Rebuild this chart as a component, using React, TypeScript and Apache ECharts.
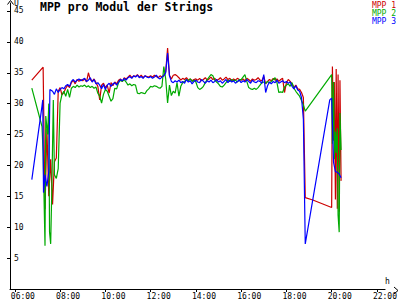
import React, { useEffect, useRef } from "react";
import * as echarts from "echarts";

const TITLE = "MPP pro Modul der Strings";
const SERIES_NAMES = ["MPP 1", "MPP 2", "MPP 3"];
const COLORS = ["#cc0000", "#00aa00", "#0000ff"];
const X_TICKS = [6, 8, 10, 12, 14, 16, 18, 20, 22];
const Y_TICKS = [5, 10, 15, 20, 25, 30, 35, 40, 45];
const Y_UNIT = "U";
const X_UNIT = "h";

// morning (irregular samples)
const RED_EARLY: [string, number][] = [
  ["06:45", 33.8], ["07:15", 35.9], ["07:20", 12.9], ["07:25", 26.0], ["07:30", 15.0],
  ["07:35", 21.0], ["07:40", 13.7], ["07:45", 20.6], ["07:50", 21.2], ["07:55", 32.0],
];
const GREEN_EARLY: [string, number][] = [
  ["06:45", 32.5], ["07:12", 26.3], ["07:15", 22.0], ["07:20", 7.0], ["07:22", 28.0],
  ["07:27", 25.0], ["07:30", 30.0], ["07:32", 9.2], ["07:35", 7.3], ["07:38", 16.0],
  ["07:42", 30.6], ["07:45", 18.5], ["07:50", 17.9], ["07:55", 19.5],
];
const BLUE_EARLY: [string, number][] = [
  ["06:45", 17.7], ["07:12", 29.6], ["07:14", 30.6], ["07:16", 15.6], ["07:20", 18.5],
  ["07:25", 16.6], ["07:30", 19.0], ["07:33", 32.3], ["07:40", 32.0], ["07:45", 31.5],
  ["07:50", 32.4], ["07:55", 31.8],
];

// day (5-minute samples from 08:00 to 18:30)
const MID_START = "08:00";
const MID_STEP_MIN = 5;
const RED_MID = [
  32.6, 31.4, 31.8, 32.5, 33.0, 32.6, 33.4, 33.8, 33.2, 33.9, 33.6, 33.9,
  33.7, 34.0, 33.5, 35.0, 33.9, 33.6, 34.0, 33.4, 32.8, 30.6, 33.0, 33.3,
  32.6, 33.0, 31.7, 33.4, 32.9, 33.5, 33.2, 33.8, 34.0, 33.6, 34.2, 34.0,
  34.3, 34.6, 34.2, 34.5, 34.4, 34.7, 34.3, 34.6, 34.2, 34.5, 34.4, 34.3,
  34.5, 34.3, 34.6, 34.4, 34.2, 34.5, 34.3, 34.6, 35.2, 39.0, 34.6, 34.0,
  34.6, 34.7, 34.5, 34.2, 33.8, 34.1, 33.9, 34.2, 33.8, 34.0, 33.7, 33.9,
  34.0, 33.8, 34.1, 33.7, 33.9, 34.2, 33.8, 34.0, 34.3, 33.9, 34.1, 33.8,
  33.9, 34.2, 33.8, 34.0, 34.3, 33.9, 34.1, 33.7, 34.0, 33.8, 34.1, 33.9,
  33.8, 34.0, 33.7, 34.1, 33.9, 33.6, 34.0, 33.8, 33.9, 34.2, 33.8, 33.7,
  34.4, 33.2, 33.6, 33.9, 33.7, 34.1, 33.8, 34.0, 33.6, 33.9, 34.1, 31.8,
  33.4, 33.9, 33.6, 33.2, 32.6, 33.0, 32.4,
];
const GREEN_MID = [
  30.1, 31.5, 32.0, 31.2, 32.3, 31.0, 32.5, 32.8, 32.6, 33.0, 32.7, 32.9,
  32.8, 33.0, 32.7, 32.9, 32.6, 32.8, 32.5, 32.7, 31.7, 31.2, 30.1, 31.5,
  32.3, 32.0, 31.2, 30.4, 30.8, 32.5, 32.4, 33.4, 33.8, 33.6, 33.9, 33.5,
  33.0, 33.2, 32.9, 33.1, 33.0, 31.7, 31.6, 31.8, 31.7, 31.6, 32.1, 32.4,
  32.8, 32.7, 32.9, 32.8, 32.6, 32.5, 32.8, 36.0, 34.0, 30.1, 33.0, 31.3,
  32.0, 31.7, 33.4, 31.2, 32.8, 33.4, 33.6, 33.9, 33.7, 34.0, 33.6, 33.8,
  33.5, 32.6, 32.3, 32.5, 32.8, 33.4, 33.9, 34.3, 34.7, 34.5, 33.8, 33.5,
  33.2, 32.8, 32.7, 33.0, 33.4, 33.8, 33.6, 33.9, 33.7, 33.8, 33.5, 33.9,
  33.9, 34.3, 34.7, 33.6, 32.6, 32.4, 32.3, 32.5, 32.3, 32.6, 33.0, 33.4,
  33.5, 33.3, 33.6, 33.4, 33.6, 33.9, 34.2, 33.4, 31.8, 31.9, 31.8, 32.7,
  33.0, 33.2, 32.8, 33.4, 32.5, 32.0, 31.6,
];
const BLUE_MID = [
  32.3, 32.6, 32.4, 32.9, 33.1, 32.8, 33.6, 33.9, 33.5, 33.8, 34.0, 33.7,
  33.9, 34.1, 33.6, 33.8, 34.2, 33.5, 33.9, 33.2, 33.4, 33.0, 32.4, 33.1,
  32.3, 33.0, 33.3, 32.8, 33.2, 33.4, 33.0, 33.5, 33.9, 33.7, 34.1, 33.8,
  34.2, 34.4, 34.1, 34.5, 34.3, 34.6, 34.2, 34.4, 34.1, 34.5, 34.3, 34.2,
  34.4, 34.1, 34.3, 34.6, 34.2, 34.0, 34.3, 34.5, 35.0, 38.2, 34.5, 33.6,
  33.4, 33.7, 33.5, 33.8, 33.4, 33.6, 33.3, 33.9, 33.5, 33.7, 33.2, 33.6,
  33.8, 33.5, 33.4, 33.9, 33.6, 33.3, 33.7, 33.5, 33.8, 33.4, 33.6, 33.9,
  33.5, 33.7, 33.3, 33.6, 33.9, 33.4, 33.8, 33.5, 33.7, 33.3, 33.6, 33.8,
  33.4, 33.7, 33.5, 33.9, 33.6, 33.3, 33.8, 33.5, 33.4, 33.7, 33.6, 33.3,
  34.7, 31.8, 32.9, 33.5, 33.2, 33.6, 33.4, 33.8, 33.3, 33.5, 33.7, 33.4,
  33.6, 33.3, 33.5, 32.8, 32.4, 32.9, 32.2,
];

// evening (irregular samples)
const RED_LATE: [string, number][] = [
  ["18:35", 32.3], ["18:40", 31.8], ["18:45", 31.0], ["18:50", 14.8], ["19:10", 14.4],
  ["20:00", 13.2], ["20:02", 36.0], ["20:05", 24.0], ["20:07", 33.5], ["20:10", 14.5],
  ["20:12", 35.6], ["20:15", 13.0], ["20:17", 34.7], ["20:20", 12.5], ["20:22", 33.8],
  ["20:25", 17.5],
];
const GREEN_LATE: [string, number][] = [
  ["18:35", 31.2], ["18:40", 30.5], ["18:45", 29.8], ["18:50", 28.8], ["20:00", 34.7],
  ["20:02", 23.5], ["20:05", 33.5], ["20:07", 21.0], ["20:10", 25.5], ["20:12", 22.0],
  ["20:15", 26.0], ["20:17", 12.0], ["20:20", 9.2], ["20:22", 28.5], ["20:25", 22.5],
];
const BLUE_LATE: [string, number][] = [
  ["18:35", 32.0], ["18:40", 31.0], ["18:45", 27.5], ["18:50", 7.3], ["19:55", 30.6],
  ["20:00", 30.9], ["20:05", 20.5], ["20:10", 19.0], ["20:15", 18.9], ["20:20", 18.6],
  ["20:25", 18.0],
];

const FONT = "DejaVu Sans Mono";

function toHours(t: string): number {
  const [h, m] = t.split(":").map(Number);
  return h + m / 60;
}

function buildSeries(early: [string, number][], mid: number[], late: [string, number][]) {
  const start = toHours(MID_START);
  const out: [number, number][] = [];
  early.forEach(([t, v]) => out.push([toHours(t), v]));
  mid.forEach((v, i) => out.push([start + (i * MID_STEP_MIN) / 60, v]));
  late.forEach(([t, v]) => out.push([toHours(t), v]));
  return out;
}

export default function App() {
  const ref = useRef<HTMLDivElement>(null);
  useEffect(() => {
    if (!ref.current) return;
    const chart = echarts.init(ref.current, undefined, { renderer: "svg" });
    const data = [
      buildSeries(RED_EARLY, RED_MID, RED_LATE),
      buildSeries(GREEN_EARLY, GREEN_MID, GREEN_LATE),
      buildSeries(BLUE_EARLY, BLUE_MID, BLUE_LATE),
    ];
    chart.setOption({
      animation: false,
      backgroundColor: "#ffffff",
      title: {
        text: TITLE,
        left: 40,
        top: 1,
        padding: 0,
        textStyle: { fontFamily: FONT, fontSize: 11.5, fontWeight: "bold", color: "#000" },
      },
      legend: {
        orient: "vertical",
        right: 4,
        top: 1,
        padding: 0,
        itemGap: 0,
        itemWidth: 0,
        itemHeight: 8,
        icon: "none",
        selectedMode: false,
        textStyle: { fontFamily: FONT, fontSize: 8, lineHeight: 8, padding: 0 },
        data: SERIES_NAMES.map((n, i) => ({ name: n, textStyle: { color: COLORS[i] } })),
      },
      grid: { left: 10, right: 3, top: 3, bottom: 10, containLabel: false },
      xAxis: {
        type: "value",
        min: 5.786,
        max: 22.36,
        splitLine: { show: false },
        axisLine: { lineStyle: { color: "#000", width: 1 } },
        axisTick: { customValues: X_TICKS, length: 3, lineStyle: { color: "#000" } },
        axisLabel: {
          customValues: X_TICKS,
          formatter: (v: number) => `${String(Math.round(v)).padStart(2, "0")}:00`,
          fontFamily: FONT,
          fontSize: 8,
          color: "#000",
          margin: 3,
          align: "left",
          padding: [0, 0, 0, -4],
        },
      },
      yAxis: {
        type: "value",
        min: 0,
        max: 46.29,
        splitLine: { show: false },
        axisLine: { lineStyle: { color: "#000", width: 1 } },
        axisTick: { customValues: Y_TICKS, length: 3, lineStyle: { color: "#000" } },
        axisLabel: {
          customValues: Y_TICKS,
          inside: true,
          margin: 4,
          fontFamily: FONT,
          fontSize: 8,
          color: "#000",
        },
      },
      graphic: [
        {
          type: "polyline",
          shape: { points: [[7.5, 4.5], [10.5, 0.5], [13.5, 4.5]] },
          style: { stroke: "#000", fill: "none", lineWidth: 1 },
        },
        {
          type: "polyline",
          shape: { points: [[394, 287], [398, 290.5], [394, 294]] },
          style: { stroke: "#000", fill: "none", lineWidth: 1 },
        },
        {
          type: "text",
          x: 14,
          y: 3,
          style: { text: Y_UNIT, fontFamily: FONT, fontSize: 8, fill: "#000", verticalAlign: "middle" },
        },
        {
          type: "text",
          x: 385,
          y: 281,
          style: { text: X_UNIT, fontFamily: FONT, fontSize: 8, fill: "#000", verticalAlign: "middle" },
        },
      ],
      series: SERIES_NAMES.map((name, i) => ({
        name,
        type: "line",
        data: data[i],
        showSymbol: false,
        symbol: "none",
        color: COLORS[i],
        lineStyle: { color: COLORS[i], width: 1.2 },
        emphasis: { disabled: true },
      })),
    });
    return () => chart.dispose();
  }, []);
  return (
    <div
      ref={ref}
      style={{ position: "fixed", left: 0, top: 0, width: 400, height: 300, background: "#fff" }}
    />
  );
}
